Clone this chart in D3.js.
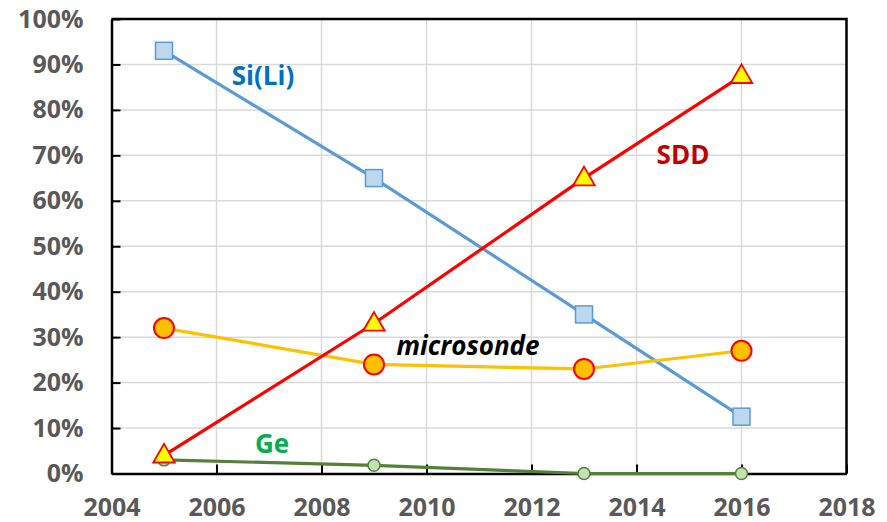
<!DOCTYPE html>
<html><head><meta charset="utf-8">
<script src="https://cdn.jsdelivr.net/npm/d3@7"></script>
<style>body{margin:0;background:#fff}svg{display:block}</style>
</head><body>
<svg id="c" width="887" height="522"></svg>
<script>
const years = [2005, 2009, 2013, 2016];
const siLi = [93, 65, 35, 12.5];
const sdd = [4, 33, 65, 87.5];
const microsonde = [32, 24, 23, 27];
const ge = [3, 1.8, 0, 0];
const xTicks = [2004, 2006, 2008, 2010, 2012, 2014, 2016, 2018];
const yTicks = [0, 10, 20, 30, 40, 50, 60, 70, 80, 90, 100];

const svg = d3.select("#c");
const L = 111.5, R = 846.5, T = 19, B = 473.5;
const x = d3.scaleLinear().domain([2004, 2018]).range([L, R]);
const y = d3.scaleLinear().domain([0, 100]).range([B, T]);
const font = "'Open Sans', sans-serif";

// gridlines
svg.append("g").selectAll("line.v").data(xTicks.slice(1, -1)).join("line")
  .attr("x1", d => x(d)).attr("x2", d => x(d)).attr("y1", T).attr("y2", B)
  .attr("stroke", "#d9d9d9").attr("stroke-width", 1.5);
svg.append("g").selectAll("line.h").data(yTicks.slice(1, -1)).join("line")
  .attr("x1", L).attr("x2", R).attr("y1", d => y(d)).attr("y2", d => y(d))
  .attr("stroke", "#d9d9d9").attr("stroke-width", 1.5);

// axes with inside ticks
const xAxis = d3.axisBottom(x).tickValues(xTicks).tickSizeInner(-9).tickSizeOuter(0).tickPadding(24).tickFormat(d3.format("d"));
const gx = svg.append("g").attr("transform", `translate(0,${B})`).call(xAxis);
const yAxis = d3.axisLeft(y).tickValues(yTicks).tickSizeInner(-9).tickSizeOuter(0).tickPadding(28).tickFormat(d => d + "%");
const gy = svg.append("g").attr("transform", `translate(${L},0)`).call(yAxis);
[gx, gy].forEach(g => {
  g.select(".domain").attr("stroke", "#000").attr("stroke-width", 2.5);
  g.selectAll(".tick line").attr("stroke", "#000").attr("stroke-width", 2);
  g.selectAll(".tick text").attr("fill", "#595959").style("font-family", font)
    .style("font-size", "25px").style("font-weight", "bold");
});
gx.selectAll(".tick text").attr("dy", "0.71em").attr("y", 25);
// frame top/right
svg.append("path").attr("d", `M${L},${T}H${R}V${B}`).attr("fill", "none")
  .attr("stroke", "#000").attr("stroke-width", 2.5);

const line = d3.line().x(d => x(d[0])).y(d => y(d[1]));
function pairs(v) { return years.map((yr, i) => [yr, v[i]]); }

// Si(Li)
svg.append("path").datum(pairs(siLi)).attr("d", line).attr("fill", "none")
  .attr("stroke", "#5B9BD5").attr("stroke-width", 3.2);
svg.append("g").selectAll("rect").data(pairs(siLi)).join("rect")
  .attr("x", d => x(d[0]) - 8.5).attr("y", d => y(d[1]) - 8.5).attr("width", 17).attr("height", 17)
  .attr("fill", "#BDD7EE").attr("stroke", "#5B9BD5").attr("stroke-width", 1.5);

// microsonde
svg.append("path").datum(pairs(microsonde)).attr("d", line).attr("fill", "none")
  .attr("stroke", "#FFC000").attr("stroke-width", 3.2);
svg.append("g").selectAll("circle").data(pairs(microsonde)).join("circle")
  .attr("cx", d => x(d[0])).attr("cy", d => y(d[1])).attr("r", 10)
  .attr("fill", "#FFC000").attr("stroke", "#FF0000").attr("stroke-width", 2);

// Ge
svg.append("path").datum(pairs(ge)).attr("d", line).attr("fill", "none")
  .attr("stroke", "#548235").attr("stroke-width", 3.2);
svg.append("g").selectAll("circle").data(pairs(ge)).join("circle")
  .attr("cx", d => x(d[0])).attr("cy", d => y(d[1])).attr("r", 6)
  .attr("fill", "#C5E0B4").attr("stroke", "#548235").attr("stroke-width", 1.5);

// SDD
svg.append("path").datum(pairs(sdd)).attr("d", line).attr("fill", "none")
  .attr("stroke", "#FF0000").attr("stroke-width", 3.2);
const tri = d3.symbol().type(d3.symbolTriangle).size(200);
svg.append("g").selectAll("path").data(pairs(sdd)).join("path")
  .attr("d", tri).attr("transform", d => `translate(${x(d[0])},${y(d[1]) + 1})`)
  .attr("fill", "#FFFF00").attr("stroke", "#FF0000").attr("stroke-width", 1.8);

// series labels
const labels = [
  {t: "Si(Li)", x: 263, y: 76, c: "#0070C0", s: "normal"},
  {t: "SDD", x: 683, y: 155, c: "#C00000", s: "normal"},
  {t: "microsonde", x: 468, y: 346, c: "#000000", s: "italic"},
  {t: "Ge", x: 272, y: 444, c: "#00B050", s: "normal"}
];
svg.append("g").selectAll("text").data(labels).join("text")
  .attr("x", d => d.x).attr("y", d => d.y).attr("text-anchor", "middle").attr("dy", "0.36em")
  .attr("fill", d => d.c).style("font-style", d => d.s)
  .style("font-family", font).style("font-size", "26px").style("font-weight", "bold")
  .text(d => d.t);
</script>
</body></html>
